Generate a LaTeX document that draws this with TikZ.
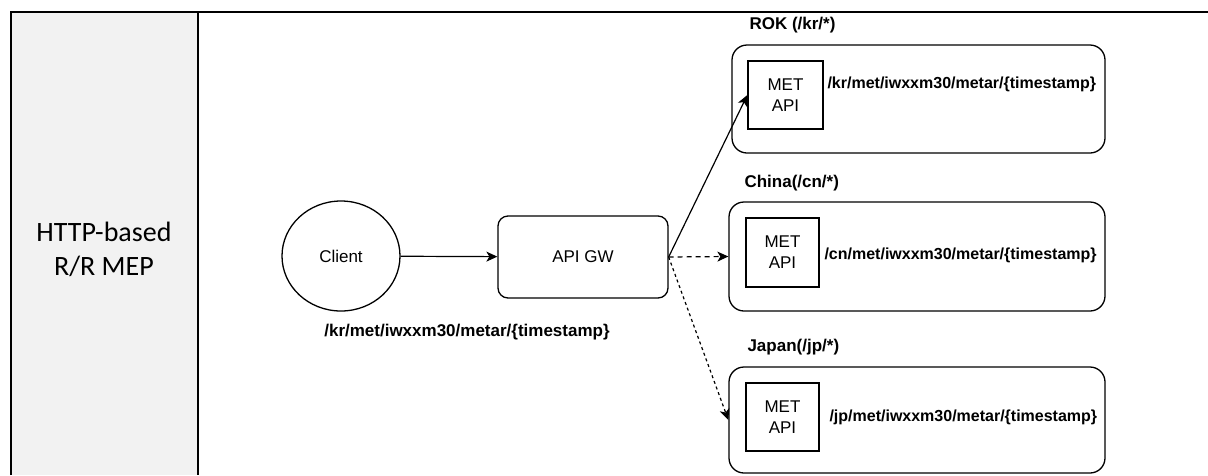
\documentclass[tikz,border=0pt]{standalone}
\usepackage{fontspec}
\setmainfont{Liberation Sans}
\newfontfamily\calfont{Carlito}
\usetikzlibrary{arrows.meta,shapes.geometric}
\definecolor{cellgray}{HTML}{F2F2F2}
\tikzset{
  lbl/.style={font=\fontsize{17}{20}\selectfont},
  blbl/.style={font=\bfseries\fontsize{17}{20}\selectfont},
  plbl/.style={font=\bfseries\fontsize{16}{19}\selectfont},
  region/.style={draw, line width=1.3pt, rounded corners=15pt},
  apibox/.style={draw, line width=1.3pt, align=center, font=\fontsize{17}{21}\selectfont},
  conn/.style={line width=1.2pt, -{Stealth[length=11pt,width=10pt,inset=3pt]}},
}
\begin{document}
\begin{tikzpicture}[x=1pt,y=-1pt]
\useasboundingbox (0,0) rectangle (1208,475);
% table
\fill[cellgray] (11,12) rectangle (198,475);
\draw[line width=2pt] (11,475) -- (11,12) -- (1208,12);
\draw[line width=2pt] (198,12) -- (198,475);
\node[font=\calfont\fontsize{28}{34}\selectfont, align=center] (mep) at (104,249) {HTTP-based\\R/R MEP};
% client and gateway
\node[draw, ellipse, line width=1.3pt, minimum width=118pt, minimum height=110pt, lbl] (client) at (341,256) {Client};
\node[draw, line width=1.3pt, rounded corners=10pt, minimum width=170pt, minimum height=82pt, lbl] (gw) at (583,257) {API GW};
\node[blbl] (kpath) at (467,332) {/kr/met/iwxxm30/metar/\{timestamp\}};
% ROK
\node[region, minimum width=373pt, minimum height=108pt] (rok) at (918.5,99) {};
\node[blbl, anchor=west] (rokl) at (746,25) {ROK (/kr/*)};
\node[apibox, minimum width=75pt, minimum height=68pt] (rokapi) at (785.5,95) {MET\\API};
\node[plbl, anchor=west] (rokp) at (824,84) {/kr/met/iwxxm30/metar/\{timestamp\}};
% China
\node[region, minimum width=376pt, minimum height=109pt] (cn) at (917,256.5) {};
\node[blbl, anchor=west] (cnl) at (741,183) {China(/cn/*)};
\node[apibox, minimum width=73pt, minimum height=69pt] (cnapi) at (782.5,252.5) {MET\\API};
\node[plbl, anchor=west] (cnp) at (821,255) {/cn/met/iwxxm30/metar/\{timestamp\}};
% Japan
\node[region, minimum width=376pt, minimum height=106pt] (jp) at (917,420) {};
\node[blbl, anchor=west] (jpl) at (744,347) {Japan(/jp/*)};
\node[apibox, minimum width=73pt, minimum height=68pt] (jpapi) at (782.5,417) {MET\\API};
\node[plbl, anchor=west] (jpp) at (826,417) {/jp/met/iwxxm30/metar/\{timestamp\}};
% connectors
\draw[conn] (client) -- (gw);
\draw[conn] (gw.east) -- (rokapi.west);
\draw[conn, dash pattern=on 5pt off 4pt] (gw.east) -- (cn.west);
\draw[conn, dash pattern=on 3pt off 3pt] (gw.east) -- (jp.west);
\end{tikzpicture}
\end{document}
